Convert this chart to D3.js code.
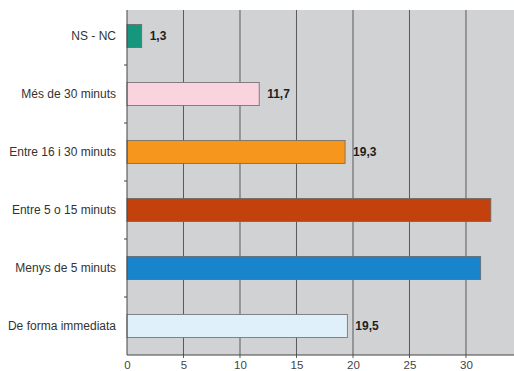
<!DOCTYPE html>
<html>
<head>
<meta charset="utf-8">
<script src="https://cdn.jsdelivr.net/npm/d3@7"></script>
<style>
  html, body { margin: 0; padding: 0; background: #fff; }
  svg { display: block; }
</style>
</head>
<body>
<svg id="chart" width="514" height="371"></svg>
<script>
// Temps d'espera: categories, values and bar colours
const categories = [
  "NS - NC",
  "Més de 30 minuts",
  "Entre 16 i 30 minuts",
  "Entre 5 o 15 minuts",
  "Menys de 5 minuts",
  "De forma immediata"
];
const values = [1.3, 11.7, 19.3, 32.2, 31.3, 19.5];
const valueLabels = ["1,3", "11,7", "19,3", null, null, "19,5"];
const barColors = ["#16967c", "#f9d3de", "#f7961c", "#c2410c", "#1784cc", "#e0f0fb"];
const tickValues = [0, 5, 10, 15, 20, 25, 30];

const W = 514, H = 371;
const plot = { left: 127, top: 10, right: 514, bottom: 355 };

const svg = d3.select("#chart");

const x = d3.scaleLinear().domain([0, 34.25]).range([plot.left, plot.right]);
const y = d3.scaleBand().domain(categories).range([7, plot.bottom])
  .paddingInner(0.6).paddingOuter(0.3);

// plot background
svg.append("rect")
  .attr("x", plot.left).attr("y", plot.top)
  .attr("width", plot.right - plot.left).attr("height", plot.bottom - plot.top)
  .attr("fill", "#d1d2d4");

// vertical gridlines (extend slightly below the axis as tick marks)
svg.append("g")
  .selectAll("line")
  .data(tickValues.slice(1))
  .join("line")
  .attr("x1", d => x(d)).attr("x2", d => x(d))
  .attr("y1", plot.top).attr("y2", plot.bottom + 3)
  .attr("stroke", "#5a5a5c").attr("stroke-width", 1);

// bars
svg.append("g")
  .selectAll("rect")
  .data(categories)
  .join("rect")
  .attr("x", x(0))
  .attr("y", d => y(d))
  .attr("width", (d, i) => x(values[i]) - x(0))
  .attr("height", y.bandwidth())
  .attr("fill", (d, i) => barColors[i])
  .attr("stroke", "#6a6a6a").attr("stroke-width", 0.8);

// value labels
svg.append("g")
  .selectAll("text")
  .data(categories.filter((d, i) => valueLabels[i] !== null))
  .join("text")
  .attr("x", d => x(values[categories.indexOf(d)]) + 8)
  .attr("y", d => y(d) + y.bandwidth() / 2)
  .attr("dy", "0.35em")
  .attr("font-family", "Liberation Sans, Arial, sans-serif")
  .attr("font-size", 12).attr("font-weight", "bold")
  .attr("fill", "#1e1e1e")
  .text(d => valueLabels[categories.indexOf(d)]);

// left axis with ticks between categories
const yAxisG = svg.append("g");
yAxisG.append("line")
  .attr("x1", plot.left).attr("x2", plot.left)
  .attr("y1", plot.top).attr("y2", plot.bottom)
  .attr("stroke", "#444").attr("stroke-width", 1);
yAxisG.selectAll("line.sep")
  .data(categories.slice(1))
  .join("line")
  .attr("class", "sep")
  .attr("x1", plot.left - 3).attr("x2", plot.left)
  .attr("y1", d => y(d) - y.step() * y.paddingInner() / 2)
  .attr("y2", d => y(d) - y.step() * y.paddingInner() / 2)
  .attr("stroke", "#444");
yAxisG.selectAll("text")
  .data(categories)
  .join("text")
  .attr("x", 116)
  .attr("y", d => y(d) + y.bandwidth() / 2)
  .attr("dy", "0.35em")
  .attr("text-anchor", "end")
  .attr("font-family", "Liberation Sans, Arial, sans-serif")
  .attr("font-size", 12)
  .attr("fill", "#333")
  .text(d => d);

// bottom axis
const xAxis = d3.axisBottom(x).tickValues(tickValues).tickSize(0).tickPadding(0);
const xAxisG = svg.append("g")
  .attr("transform", `translate(0,${plot.bottom})`)
  .call(xAxis);
xAxisG.select(".domain").remove();
xAxisG.append("line")
  .attr("x1", plot.left).attr("x2", plot.right)
  .attr("stroke", "#444").attr("stroke-width", 1);
xAxisG.selectAll(".tick text")
  .attr("y", 6)
  .attr("dy", "0.71em")
  .attr("font-family", "Liberation Sans, Arial, sans-serif")
  .attr("font-size", 11.5)
  .attr("fill", "#444");
</script>
</body>
</html>
